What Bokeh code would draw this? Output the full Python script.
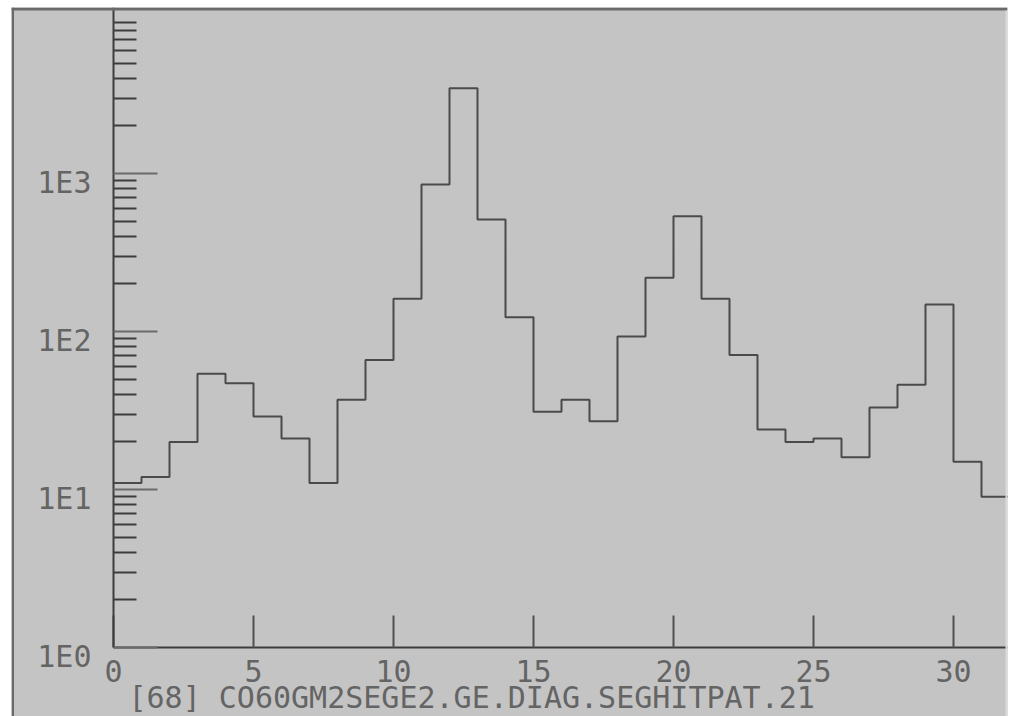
from bokeh.plotting import figure
from bokeh.models import (Range1d, FixedTicker, LabelSet, Label, ColumnDataSource,
                          BoxAnnotation, CustomJSTickFormatter)
from bokeh.embed import file_html
from bokeh.resources import INLINE
from bokeh.core.properties import value

# ---- data ----
bin_edges = list(range(33))
counts = [11, 12, 20, 54, 47, 29, 21, 11, 37, 66, 161, 852, 3467, 512, 123, 31,
          37, 27, 93, 219, 537, 161, 71, 24, 20, 21, 16, 33, 46, 148, 15, 9]
x_ticks = [0, 5, 10, 15, 20, 25, 30]
y_decades = [1, 10, 100, 1000]
y_labels = ["1E0", "1E1", "1E2", "1E3"]
y_minor = [m * d for d in [1, 10, 100, 1000] for m in range(2, 10)]
title_text = "[68] CO60GM2SEGE2.GE.DIAG.SEGHITPAT.21"

# view limits (data units); the axes sit at x=0 and y=1 inside the panel
X_MIN, X_MAX = -3.643, 31.929
Y_MIN, Y_MAX = 0.3659, 11236

BG = "#c4c4c4"
FONT = "DejaVu Sans Mono"
TXT = "#646464"
AX = "#3c3c3c"

p = figure(width=1011, height=716, y_axis_type="log",
           x_range=Range1d(X_MIN, X_MAX), y_range=Range1d(Y_MIN, Y_MAX),
           output_backend="svg", toolbar_location=None,
           min_border_left=11, min_border_right=4, min_border_top=7,
           min_border_bottom=0, background_fill_color=BG, border_fill_color="white")
p.outline_line_color = None
p.grid.visible = False

# histogram outline
p.step(x=bin_edges, y=counts + [counts[-1]], mode="after",
       line_color="#4a4a4a", line_width=2)

# x axis, fixed at y = 1
xa = p.xaxis[0]
xa.fixed_location = 1
xa.bounds = (0, X_MAX)
xa.ticker = FixedTicker(ticks=x_ticks, minor_ticks=[])
xa.major_tick_in = 32
xa.major_tick_out = 0
xa.minor_tick_in = 0
xa.minor_tick_out = 0
xa.axis_line_color = AX
xa.axis_line_width = 2
xa.major_tick_line_color = "#505050"
xa.major_tick_line_width = 2
xa.major_label_text_font = FONT
xa.major_label_text_font_size = "30px"
xa.major_label_text_color = TXT
xa.major_label_standoff = 12

# y axis, fixed at x = 0, ticks pointing into the plot
ya = p.yaxis[0]
ya.fixed_location = 0
ya.bounds = (1, Y_MAX)
ya.ticker = FixedTicker(ticks=y_decades, minor_ticks=y_minor)
ya.formatter = CustomJSTickFormatter(code="return ''")
ya.major_tick_in = 44
ya.major_tick_out = 0
ya.minor_tick_in = 23
ya.minor_tick_out = 0
ya.axis_line_color = AX
ya.axis_line_width = 2
ya.major_tick_line_color = "#6a6a6a"
ya.major_tick_line_width = 2
ya.minor_tick_line_color = "#3c3c3c"
ya.minor_tick_line_width = 2
ya.major_label_standoff = 0

# y tick labels, set slightly below each decade tick as in the reference
src = ColumnDataSource(dict(y=y_decades, text=y_labels))
p.add_layout(LabelSet(x=80, y="y", text="text", source=src, x_units="screen",
                      y_offset=-19, text_align="right", text_baseline="alphabetic",
                      text_font=value(FONT), text_font_size="30px", text_color=TXT))

# bottom caption
p.add_layout(Label(x=117, y=19, x_units="screen", y_units="screen", text=title_text,
                   text_align="left", text_baseline="alphabetic",
                   text_font=FONT, text_font_size="30px", text_color=TXT))

# window frame edges
p.add_layout(BoxAnnotation(left=0, right=2.5, bottom=0, top=709,
                           left_units="screen", right_units="screen",
                           bottom_units="screen", top_units="screen",
                           fill_color="#6a6a6a", fill_alpha=1, line_color=None))
p.add_layout(BoxAnnotation(left=0, right=996, bottom=706, top=709,
                           left_units="screen", right_units="screen",
                           bottom_units="screen", top_units="screen",
                           fill_color="#6a6a6a", fill_alpha=1, line_color=None))
p.add_layout(BoxAnnotation(left=994, right=996, bottom=0, top=706,
                           left_units="screen", right_units="screen",
                           bottom_units="screen", top_units="screen",
                           fill_color="#dadada", fill_alpha=1, line_color=None))

open("out.html", "w").write(file_html(p, INLINE))
